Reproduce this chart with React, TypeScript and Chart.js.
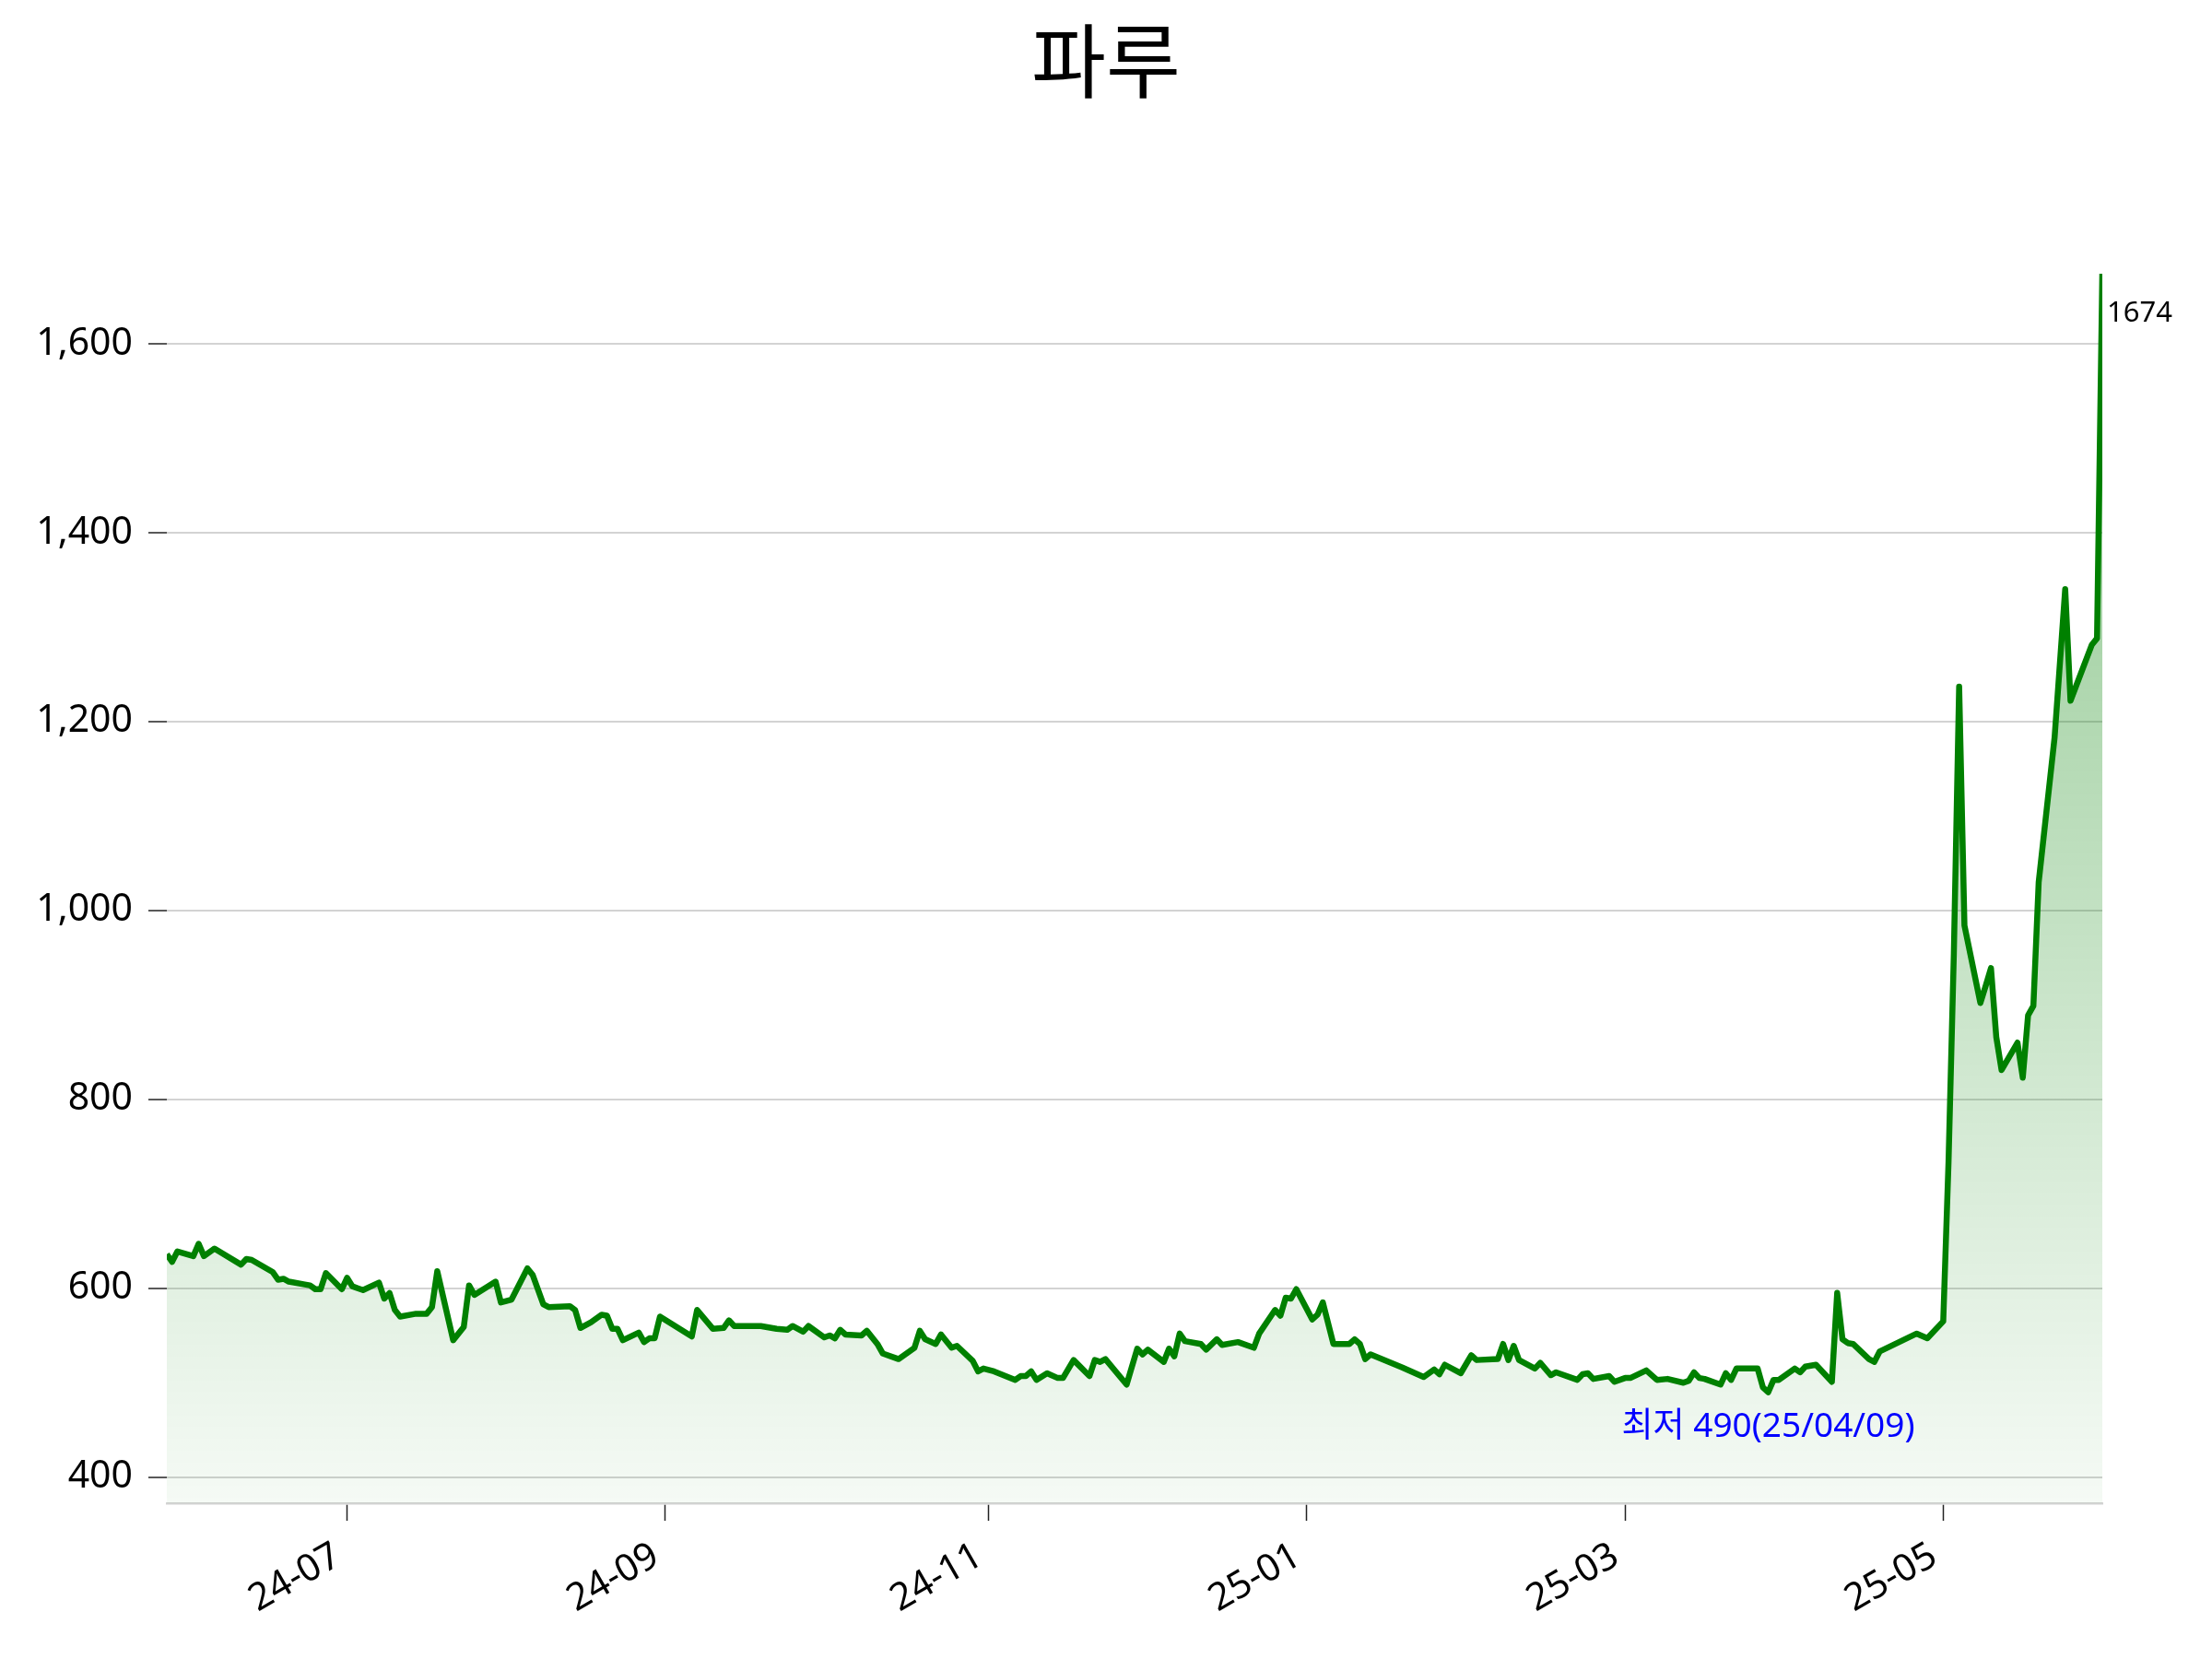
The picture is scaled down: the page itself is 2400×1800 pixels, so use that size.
import React, { useEffect, useRef } from 'react';
import { Chart, registerables } from 'chart.js';

Chart.register(...registerables);

const TITLE = '파루';

const dates: string[] = [
  '2024-06-11', '2024-06-12', '2024-06-13', '2024-06-16', '2024-06-17', '2024-06-18', '2024-06-20',
  '2024-06-25', '2024-06-26', '2024-06-27', '2024-07-01', '2024-07-02', '2024-07-03', '2024-07-04',
  '2024-07-07', '2024-07-08', '2024-07-09', '2024-07-10', '2024-07-11', '2024-07-14', '2024-07-15',
  '2024-07-16', '2024-07-17', '2024-07-18', '2024-07-21', '2024-07-22', '2024-07-23', '2024-07-24',
  '2024-07-25', '2024-07-28', '2024-07-30', '2024-07-31', '2024-08-01', '2024-08-04', '2024-08-06',
  '2024-08-07', '2024-08-08', '2024-08-12', '2024-08-13', '2024-08-15', '2024-08-18', '2024-08-19',
  '2024-08-21', '2024-08-22', '2024-08-26', '2024-08-27', '2024-08-28', '2024-08-30', '2024-09-01',
  '2024-09-02', '2024-09-03', '2024-09-04', '2024-09-05', '2024-09-08', '2024-09-09', '2024-09-10',
  '2024-09-11', '2024-09-12', '2024-09-18', '2024-09-19', '2024-09-22', '2024-09-24', '2024-09-25',
  '2024-09-26', '2024-10-01', '2024-10-04', '2024-10-06', '2024-10-07', '2024-10-09', '2024-10-10',
  '2024-10-13', '2024-10-14', '2024-10-15', '2024-10-16', '2024-10-17', '2024-10-20', '2024-10-21',
  '2024-10-23', '2024-10-24', '2024-10-27', '2024-10-30', '2024-10-31', '2024-11-01', '2024-11-03',
  '2024-11-04', '2024-11-06', '2024-11-07', '2024-11-10', '2024-11-11', '2024-11-12', '2024-11-14',
  '2024-11-18', '2024-11-19', '2024-11-20', '2024-11-21', '2024-11-22', '2024-11-24', '2024-11-26',
  '2024-11-27', '2024-11-29', '2024-12-02', '2024-12-03', '2024-12-04', '2024-12-05', '2024-12-09',
  '2024-12-11', '2024-12-12', '2024-12-13', '2024-12-16', '2024-12-17', '2024-12-18', '2024-12-19',
  '2024-12-20', '2024-12-23', '2024-12-24', '2024-12-26', '2024-12-27', '2024-12-30', '2025-01-02',
  '2025-01-03', '2025-01-06', '2025-01-07', '2025-01-08', '2025-01-09', '2025-01-10', '2025-01-13',
  '2025-01-14', '2025-01-15', '2025-01-17', '2025-01-20', '2025-01-21', '2025-01-22', '2025-01-23',
  '2025-01-24', '2025-01-30', '2025-02-03', '2025-02-05', '2025-02-06', '2025-02-07', '2025-02-10',
  '2025-02-12', '2025-02-13', '2025-02-17', '2025-02-18', '2025-02-19', '2025-02-20', '2025-02-21',
  '2025-02-24', '2025-02-25', '2025-02-27', '2025-02-28', '2025-03-04', '2025-03-05', '2025-03-06',
  '2025-03-07', '2025-03-10', '2025-03-11', '2025-03-13', '2025-03-14', '2025-03-17', '2025-03-19',
  '2025-03-21', '2025-03-24', '2025-03-25', '2025-03-26', '2025-03-27', '2025-03-28', '2025-03-31',
  '2025-04-01', '2025-04-02', '2025-04-03', '2025-04-07', '2025-04-08', '2025-04-09', '2025-04-10',
  '2025-04-11', '2025-04-14', '2025-04-15', '2025-04-16', '2025-04-18', '2025-04-21', '2025-04-22',
  '2025-04-23', '2025-04-24', '2025-04-25', '2025-04-28', '2025-04-29', '2025-04-30', '2025-05-07',
  '2025-05-09', '2025-05-12', '2025-05-13', '2025-05-14', '2025-05-15', '2025-05-16', '2025-05-19',
  '2025-05-20', '2025-05-21', '2025-05-22', '2025-05-23', '2025-05-26', '2025-05-27', '2025-05-28',
  '2025-05-29', '2025-05-30', '2025-06-02', '2025-06-04', '2025-06-05', '2025-06-09', '2025-06-10',
  '2025-06-11',
];

const prices: number[] = [
  636, 628, 639, 634, 647, 634, 642,
  625, 631, 630, 617, 609, 610, 607,
  604, 603, 599, 599, 616, 599, 611,
  602, 600, 598, 606, 589, 595, 577,
  570, 573, 573, 580, 618, 545, 559,
  603, 593, 607, 585, 588, 621, 614,
  583, 580, 581, 577, 558, 564, 572,
  571, 557, 557, 545, 553, 543, 547,
  547, 570, 549, 577, 557, 558, 566,
  560, 560, 557, 556, 560, 554, 560,
  548, 550, 547, 556, 551, 550, 555,
  541, 531, 525, 537, 555, 546, 541,
  551, 537, 539, 523, 512, 515, 512,
  503, 507, 507, 512, 503, 510, 505,
  505, 524, 507, 524, 522, 525, 498,
  536, 530, 535, 522, 536, 528, 552,
  544, 541, 535, 546, 540, 543, 537,
  552, 577, 571, 590, 589, 599, 567,
  572, 585, 541, 541, 546, 541, 525,
  530, 516, 506, 514, 509, 519, 510,
  529, 524, 525, 541, 524, 539, 524,
  515, 521, 508, 511, 503, 509, 510,
  504, 507, 501, 505, 505, 513, 503,
  504, 500, 502, 511, 505, 504, 498,
  510, 503, 515, 515, 495, 490, 503,
  503, 515, 511, 517, 519, 501, 595,
  546, 542, 541, 525, 522, 533, 552,
  547, 565, 734, 954, 1237, 984, 902,
  920, 939, 866, 831, 860, 823, 889,
  899, 1030, 1183, 1340, 1222, 1281, 1288,
  1674,
];

const xTickDates: string[] = ['2024-07-15', '2024-09-13', '2024-11-13', '2025-01-12', '2025-03-13', '2025-05-12'];
const yTickValues: number[] = [400, 600, 800, 1000, 1200, 1400, 1600];

const DAY = 86400000;
const toDay = (s: string) => Date.parse(s + 'T00:00:00Z') / DAY;
const pad2 = (n: number) => String(n).padStart(2, '0');
const fmtYM = (v: number) => {
  const d = new Date(Math.round(v) * DAY);
  return `${pad2(d.getUTCFullYear() % 100)}-${pad2(d.getUTCMonth() + 1)}`;
};

const FONT = '"Noto Sans", "Noto Sans CJK KR", sans-serif';
const TITLE_FONT = '"Noto Sans CJK KR", "Noto Sans", sans-serif';

export default function App() {
  const canvasRef = useRef<HTMLCanvasElement | null>(null);

  useEffect(() => {
    const canvas = canvasRef.current;
    if (!canvas) return;

    const points = dates.map((d, i) => ({ x: toDay(d), y: prices[i] }));
    const minVal = Math.min(...prices);
    const minIdx = prices.indexOf(minVal);
    const maxVal = Math.max(...prices);
    const yMin = minVal * 0.76;
    const yMax = maxVal;

    const annotPlugin = {
      id: 'annot',
      afterDatasetsDraw(chart: any) {
        const { ctx, scales } = chart;
        const xs = scales.x;
        const ys = scales.y;
        ctx.save();
        const li = prices.length - 1;
        const lx = xs.getPixelForValue(toDay(dates[li]));
        const ly = ys.getPixelForValue(prices[li]);
        ctx.font = `31px ${FONT}`;
        ctx.fillStyle = '#000000';
        ctx.textAlign = 'left';
        ctx.textBaseline = 'middle';
        ctx.fillText(String(prices[li]), lx + 5, ly + 43);
        const md = dates[minIdx];
        const mx = xs.getPixelForValue(toDay(md));
        const my = ys.getPixelForValue(minVal);
        const [yy, mm, dd] = md.split('-');
        ctx.font = `37px ${FONT}`;
        ctx.fillStyle = '#0000ff';
        ctx.textAlign = 'center';
        ctx.fillText(`최저 ${minVal}(${yy.slice(2)}/${mm}/${dd})`, mx, my + 38);
        ctx.restore();
      },
    };

    const chart = new Chart(canvas, {
      type: 'line',
      data: {
        datasets: [
          {
            label: TITLE,
            data: points,
            borderColor: '#008000',
            borderWidth: 6.5,
            borderJoinStyle: 'round',
            pointRadius: 0,
            pointHoverRadius: 0,
            tension: 0,
            fill: 'start',
            yAxisID: 'y',
            backgroundColor: (c: any) => {
              const { chart: ch } = c;
              const area = ch.chartArea;
              if (!area) return 'rgba(0,128,0,0.1)';
              const g = ch.ctx.createLinearGradient(0, area.top, 0, area.bottom);
              g.addColorStop(0, 'rgba(0,128,0,0.45)');
              g.addColorStop(1, 'rgba(0,128,0,0.04)');
              return g;
            },
          },
        ],
      },
      options: {
        animation: false,
        responsive: false,
        devicePixelRatio: 1,
        events: [],
        layout: { padding: { left: 0, right: 0, top: 0, bottom: 0 } },
        plugins: {
          legend: { display: false },
          tooltip: { enabled: false },
          title: {
            display: true,
            text: TITLE,
            color: '#000000',
            font: { family: TITLE_FONT, size: 88, weight: 'normal' },
            padding: { top: 13, bottom: 178.4 },
          },
        },
        scales: {
          x: {
            type: 'linear',
            min: toDay(dates[0]),
            max: toDay(dates[dates.length - 1]),
            afterBuildTicks: (s: any) => {
              s.ticks = xTickDates.map((d) => ({ value: toDay(d) }));
            },
            afterFit: (s: any) => {
              s.height = 169;
            },
            ticks: {
              autoSkip: false,
              minRotation: 30,
              maxRotation: 30,
              color: '#000000',
              font: { family: FONT, size: 41 },
              padding: 14,
              labelOffset: -10,
              callback: (v: any) => fmtYM(Number(v)),
            },
            grid: {
              drawOnChartArea: false,
              drawTicks: true,
              tickLength: 19,
              tickColor: '#222222',
              tickWidth: 1.5,
            },
            border: { display: true, color: '#d3d3d3', width: 2.5 },
          },
          y: {
            position: 'left',
            min: yMin,
            max: yMax,
            afterBuildTicks: (s: any) => {
              s.ticks = yTickValues.map((v) => ({ value: v }));
            },
            afterFit: (s: any) => {
              s.width = 181;
            },
            ticks: {
              color: '#000000',
              font: { family: FONT, size: 41 },
              padding: 17,
              callback: (v: any) => Number(v).toLocaleString('en-US'),
            },
            grid: {
              color: '#d3d3d3',
              lineWidth: 2,
              tickLength: 20,
              tickColor: '#222222',
              tickWidth: 1.5,
            },
            border: { display: false },
          },
          yRight: {
            position: 'right',
            min: 0,
            max: 1,
            display: true,
            afterFit: (s: any) => {
              s.width = 119;
            },
            ticks: { display: false },
            grid: { display: false, drawTicks: false },
            border: { display: false },
          },
        },
      },
      plugins: [annotPlugin],
    } as any);

    return () => {
      chart.destroy();
    };
  }, []);

  return (
    <div style={{ position: 'fixed', left: 0, top: 0, width: 2400, height: 1800, background: '#ffffff' }}>
      <canvas ref={canvasRef} width={2400} height={1800} style={{ width: 2400, height: 1800, display: 'block' }} />
    </div>
  );
}
